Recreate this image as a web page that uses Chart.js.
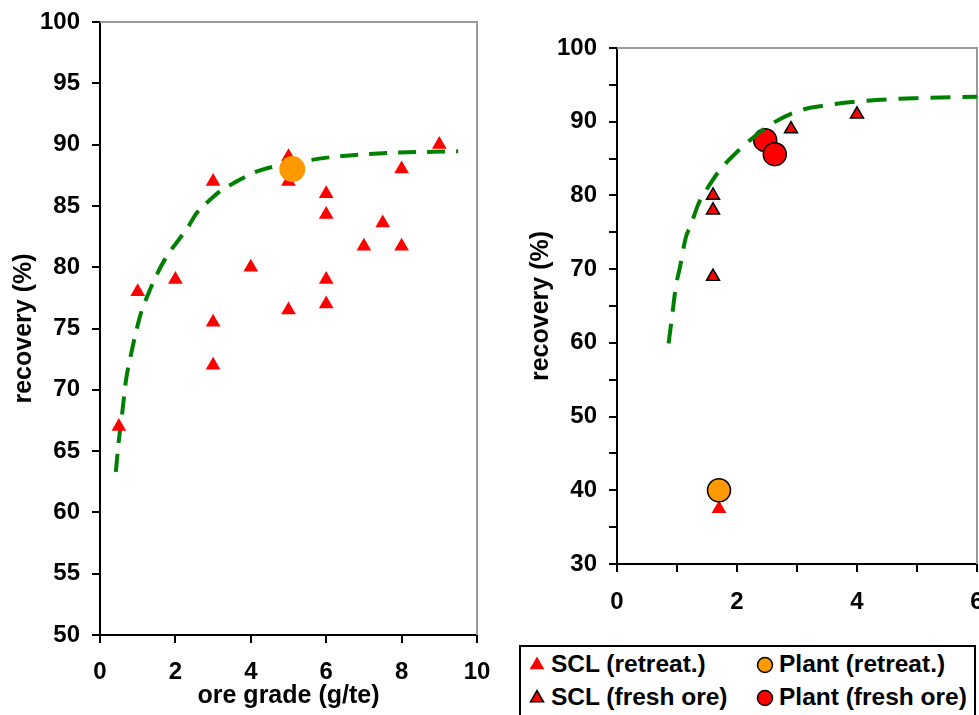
<!DOCTYPE html>
<html>
<head>
<meta charset="utf-8">
<title>Recovery vs ore grade</title>
<script src="https://cdn.jsdelivr.net/npm/chart.js@4.4.1/dist/chart.umd.min.js"></script>
<style>
  html, body { margin: 0; padding: 0; overflow: hidden; background: #fff; }
  body { width: 979px; height: 715px; position: relative; }
  #left, #right { position: absolute; top: 0; }
  #left { left: 0; }
  #right { left: 500px; }
  #legend {
    position: absolute; left: 519px; top: 645px; width: 457px; height: 100px;
    border: 2px solid #000; box-sizing: border-box;
  }
  #legend canvas, #legend span { position: absolute; }
  #legend span {
    font: bold 24.5px 'Liberation Sans', Arial, sans-serif; line-height: 28px;
    white-space: nowrap; color: #000;
  }
</style>
</head>
<body>
<canvas id="left" width="500" height="715"></canvas>
<canvas id="right" width="500" height="640"></canvas>
<div id="legend"></div>
<script>
// left panel - retreatment
const leftSclGrade = [0.5, 1, 2, 3, 3, 3, 4, 5, 5, 5, 6, 6, 6, 6, 7, 7.5, 8, 8, 9]
const leftSclRecovery = [67, 78, 79, 87, 75.5, 72, 80, 89, 87, 76.5, 86, 84.3, 79, 77, 81.7, 83.6, 88, 81.7, 90]
const leftPlantGrade = [5.1]
const leftPlantRecovery = [88]
const leftFitGrade = [0.42, 0.49, 0.6, 0.69, 0.81, 0.97, 1.1, 1.25, 1.46, 1.77, 2.08, 2.34, 2.56, 2.92, 3.23, 3.63, 4.07, 4.6, 5.3, 6.2, 7.5, 9.5]
const leftFitRecovery = [63.3, 65.6, 68.4, 70.8, 72.7, 74.9, 76.4, 77.6, 79.1, 80.9, 82.2, 83.3, 84.4, 85.5, 86.3, 87.0, 87.7, 88.2, 88.6, 89.0, 89.3, 89.45]
const leftXTicks = [0, 2, 4, 6, 8, 10]
const leftYTicks = [50, 55, 60, 65, 70, 75, 80, 85, 90, 95, 100]

// right panel - fresh ore
const rightSclFreshGrade = [1.6, 1.6, 1.6, 2.9, 4.0]
const rightSclFreshRecovery = [80, 78, 69, 89, 91]
const rightPlantFreshGrade = [2.47, 2.63]
const rightPlantFreshRecovery = [87.5, 85.6]
const rightSclRetreatGrade = [1.7]
const rightSclRetreatRecovery = [37.5]
const rightPlantRetreatGrade = [1.7]
const rightPlantRetreatRecovery = [40]
const rightFitGrade = [0.86, 0.93, 0.98, 1.05, 1.15, 1.22, 1.36, 1.44, 1.63, 1.74, 2.0, 2.22, 2.5, 3.0, 3.55, 4.16, 5.0, 6.0]
const rightFitRecovery = [59.9, 64.4, 67.6, 70.3, 74.4, 75.75, 78.9, 80.1, 82.5, 83.7, 85.9, 87.5, 89.3, 91.4, 92.3, 92.85, 93.2, 93.4]
const rightXTicks = [0, 2, 4, 6]
const rightYTicks = [30, 40, 50, 60, 70, 80, 90, 100]

const RED = '#ff0000'
const ORANGE = '#ff9900'
const GREEN = '#008000'
const FONT = "'Liberation Sans', Arial, sans-serif"

Chart.defaults.font.family = FONT
Chart.defaults.font.size = 24
Chart.defaults.font.weight = 'bold'
Chart.defaults.color = '#000'

const pts = (xs, ys) => xs.map((x, i) => ({ x: x, y: ys[i] }))

// grey frame on top and right of the plot area
const framePlugin = {
  id: 'frame',
  beforeDatasetsDraw(chart) {
    const { ctx, chartArea: a } = chart
    ctx.save()
    ctx.strokeStyle = '#9a9a9a'
    ctx.lineWidth = 2
    ctx.beginPath()
    ctx.moveTo(a.left, a.top)
    ctx.lineTo(a.right, a.top)
    ctx.lineTo(a.right, a.bottom)
    ctx.stroke()
    ctx.restore()
  }
}

// fixed axis size, and no extra room asked for the end labels
const fixSize = (w, h) => s => {
  if (w) s.width = w
  if (h) s.height = h
  s.paddingLeft = 0
  s.paddingRight = 0
  s.paddingTop = 0
  s.paddingBottom = 0
}

// labelled ticks come from the array, unlabelled minor ticks every `minor`
const makeAxis = (ticks, minor, padding) => ({
  type: 'linear',
  min: ticks[0],
  max: ticks[ticks.length - 1],
  border: { color: '#000', width: 2 },
  grid: { drawOnChartArea: false, color: '#000', lineWidth: 2, tickLength: 8 },
  ticks: {
    stepSize: minor,
    autoSkip: false,
    maxRotation: 0,
    padding: padding,
    callback: v => ticks.includes(v) ? v : ''
  }
})

const titleFont = { size: 25, weight: 'bold', family: FONT }

const fitLine = (data, dash) => ({
  label: 'fit',
  data: data,
  showLine: true,
  pointRadius: 0,
  borderColor: GREEN,
  borderWidth: 4,
  borderDash: dash,
  cubicInterpolationMode: 'monotone',
  fill: false
})

const leftX = makeAxis(leftXTicks, 2, 15)
leftX.title = { display: true, text: 'ore grade (g/te)', font: titleFont, padding: { top: 0, bottom: 4 } }
leftX.afterFit = fixSize(0, 80)
const leftY = makeAxis(leftYTicks, 5, 12)
leftY.title = { display: true, text: 'recovery (%)', font: titleFont, padding: { top: 9, bottom: 0 } }
leftY.afterFit = fixSize(100, 0)

new Chart(document.getElementById('left'), {
  type: 'scatter',
  data: {
    datasets: [
      { label: 'SCL (retreat.)', data: pts(leftSclGrade, leftSclRecovery), pointStyle: 'triangle',
        pointRadius: 8.5, pointBackgroundColor: RED, pointBorderWidth: 0, order: 2 },
      { label: 'Plant (retreat.)', data: pts(leftPlantGrade, leftPlantRecovery), pointStyle: 'circle',
        pointRadius: 13, pointBackgroundColor: ORANGE, pointBorderWidth: 0, order: 1 },
      Object.assign(fitLine(pts(leftFitGrade, leftFitRecovery), [18, 11]), { order: 3 })
    ]
  },
  options: {
    responsive: false,
    animation: false,
    events: [],
    layout: { padding: { top: 22, right: 23, left: 0, bottom: 0 } },
    plugins: { legend: { display: false }, tooltip: { enabled: false } },
    scales: { x: leftX, y: leftY }
  },
  plugins: [framePlugin]
})

const rightX = makeAxis(rightXTicks, 1, 16)
rightX.afterFit = fixSize(0, 76)
const rightY = makeAxis(rightYTicks, 5, 12)
rightY.title = { display: true, text: 'recovery (%)', font: titleFont, padding: { top: 26, bottom: 0 } }
rightY.afterFit = fixSize(117, 0)

new Chart(document.getElementById('right'), {
  type: 'scatter',
  data: {
    datasets: [
      Object.assign(fitLine(pts(rightFitGrade, rightFitRecovery), [20, 12]), { order: 1 }),
      { label: 'Plant (fresh ore)', data: pts(rightPlantFreshGrade, rightPlantFreshRecovery), pointStyle: 'circle',
        pointRadius: 11.5, pointBackgroundColor: RED, pointBorderColor: '#000', pointBorderWidth: 1.5, order: 2 },
      { label: 'Plant (retreat.)', data: pts(rightPlantRetreatGrade, rightPlantRetreatRecovery), pointStyle: 'circle',
        pointRadius: 11.5, pointBackgroundColor: ORANGE, pointBorderColor: '#000', pointBorderWidth: 1.5, order: 3 },
      { label: 'SCL (fresh ore)', data: pts(rightSclFreshGrade, rightSclFreshRecovery), pointStyle: 'triangle',
        pointRadius: 7.5, pointBackgroundColor: RED, pointBorderColor: '#000', pointBorderWidth: 1.5, order: 4 },
      { label: 'SCL (retreat.)', data: pts(rightSclRetreatGrade, rightSclRetreatRecovery), pointStyle: 'triangle',
        pointRadius: 8.5, pointBackgroundColor: RED, pointBorderWidth: 0, order: 5 }
    ]
  },
  options: {
    responsive: false,
    animation: false,
    events: [],
    layout: { padding: { top: 48, right: 23, left: 0, bottom: 0 } },
    plugins: { legend: { display: false }, tooltip: { enabled: false } },
    scales: { x: rightX, y: rightY }
  },
  plugins: [framePlugin]
})

// boxed legend under the right panel
const legendItems = [
  { label: 'SCL (retreat.)', style: 'triangle', color: RED, radius: 8.5, border: 0, col: 0, row: 0 },
  { label: 'Plant (retreat.)', style: 'circle', color: ORANGE, radius: 7.5, border: 1.5, col: 1, row: 0 },
  { label: 'SCL (fresh ore)', style: 'triangle', color: RED, radius: 7.5, border: 1.5, col: 0, row: 1 },
  { label: 'Plant (fresh ore)', style: 'circle', color: RED, radius: 7.5, border: 1.5, col: 1, row: 1 }
]
const legendBox = document.getElementById('legend')
const colSym = [16, 244]
const colText = [30, 258]
const rowMid = [17, 50]
legendItems.forEach(it => {
  const c = document.createElement('canvas')
  c.width = 24
  c.height = 24
  c.style.left = (colSym[it.col] - 12) + 'px'
  c.style.top = (rowMid[it.row] - 12) + 'px'
  const ctx = c.getContext('2d')
  ctx.fillStyle = it.color
  ctx.strokeStyle = '#000'
  ctx.lineWidth = it.border
  Chart.helpers.drawPoint(ctx, { pointStyle: it.style, radius: it.radius, borderWidth: it.border, rotation: 0 }, 12, 13)
  legendBox.appendChild(c)
  const s = document.createElement('span')
  s.textContent = it.label
  s.style.left = colText[it.col] + 'px'
  s.style.top = (rowMid[it.row] - 14) + 'px'
  legendBox.appendChild(s)
})
</script>
</body>
</html>
